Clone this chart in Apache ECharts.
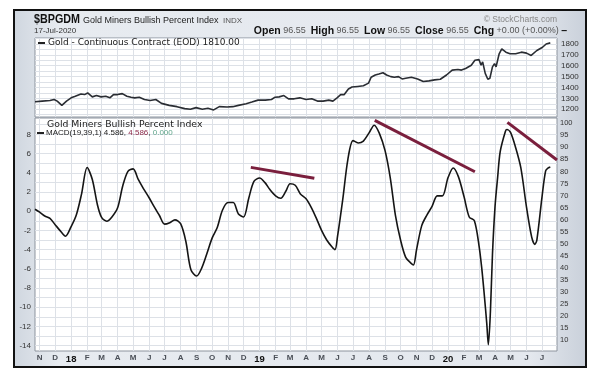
<!DOCTYPE html>
<html><head><meta charset="utf-8">
<script src="https://cdn.jsdelivr.net/npm/echarts@6/dist/echarts.min.js"></script>
<style>html,body{margin:0;padding:0;background:#fff}#c{width:600px;height:379px}</style>
</head><body><div id="c"></div>
<script>
// ---- data ----
const dates = ['2017-10-23','2017-11-01','2017-11-11','2017-11-21','2017-12-01','2017-12-11','2017-12-21',
'2018-01-01','2018-01-11','2018-01-21','2018-02-01','2018-02-11','2018-02-21','2018-03-01','2018-03-11','2018-03-21',
'2018-04-01','2018-04-11','2018-04-21','2018-05-01','2018-05-11','2018-05-21','2018-06-01','2018-06-11','2018-06-21',
'2018-07-01','2018-07-11','2018-07-21','2018-08-01','2018-08-11','2018-08-21','2018-09-01','2018-09-11','2018-09-21',
'2018-10-01','2018-10-11','2018-10-21','2018-11-01','2018-11-11','2018-11-21','2018-12-01','2018-12-11','2018-12-21',
'2019-01-01','2019-01-11','2019-01-21','2019-02-01','2019-02-11','2019-02-21','2019-03-01','2019-03-11','2019-03-21',
'2019-04-01','2019-04-11','2019-04-21','2019-05-01','2019-05-11','2019-05-21','2019-05-27','2019-06-01','2019-06-11','2019-06-21',
'2019-07-01','2019-07-11','2019-07-21','2019-08-01','2019-08-11','2019-08-21','2019-09-01','2019-09-11','2019-09-21',
'2019-10-01','2019-10-11','2019-10-21','2019-10-26','2019-11-01','2019-11-11','2019-11-21','2019-12-01','2019-12-11','2019-12-21',
'2020-01-01','2020-01-11','2020-01-21','2020-02-01','2020-02-11','2020-02-21','2020-03-01','2020-03-06','2020-03-11',
'2020-03-16','2020-03-19','2020-03-23','2020-03-27','2020-04-01','2020-04-06','2020-04-11','2020-04-21','2020-04-24',
'2020-05-01','2020-05-11','2020-05-21','2020-06-01','2020-06-11','2020-06-17','2020-06-21','2020-07-01','2020-07-08','2020-07-13','2020-07-17'];

const macd = [0.2,-0.1,-0.5,-0.75,-1.4,-2.05,-2.6,
-1.6,-0.4,1.75,4.55,3.3,0.65,-0.65,-1.05,-0.6,
0.35,2.65,4.15,4.4,3.3,2.35,1.4,0.45,-0.45,
-1.35,-1.2,-0.9,-1.3,-3.1,-6.1,-6.75,-5.9,-4.4,
-2.8,-1.7,0.1,0.9,0.9,-0.3,-0.6,1.35,3.1,
3.45,3.0,2.25,1.6,1.35,2.1,2.85,2.7,1.8,
1.3,0.4,-0.75,-2.0,-3.0,-3.7,-4.0,-2.6,1.2,5.4,
7.35,7.1,7.3,8.15,8.95,8.1,6.3,3.5,-0.4,
-3.0,-4.8,-5.4,-5.6,-4.0,-1.5,-0.4,0.5,1.6,1.6,
3.5,4.5,3.6,1.5,-0.6,-1.0,-3.6,-5.8,-8.6,
-11.7,-13.9,-10.5,-4.5,0.5,3.5,6.2,8.3,8.5,
8.2,6.6,4.5,0.4,-2.7,-3.45,-3.0,1.5,4.2,4.5,4.586];

const goldDates = ['2017-10-23','2017-11-06','2017-11-21','2017-11-29','2017-12-05','2017-12-14','2017-12-23',
'2018-01-01','2018-01-09','2018-01-20','2018-01-27','2018-02-02','2018-02-11','2018-02-19','2018-02-28','2018-03-09',
'2018-03-17','2018-03-24','2018-04-01','2018-04-10','2018-04-19','2018-04-27','2018-05-04','2018-05-13','2018-05-23',
'2018-06-03','2018-06-14','2018-06-25','2018-07-10','2018-07-25','2018-08-09','2018-08-20','2018-08-31','2018-09-12',
'2018-09-23','2018-10-04','2018-10-15','2018-10-30','2018-11-10','2018-11-21','2018-12-06','2018-12-17','2018-12-29',
'2019-01-12','2019-01-24','2019-01-31','2019-02-08','2019-02-17','2019-02-26','2019-03-09','2019-03-20','2019-04-01',
'2019-04-12','2019-04-23','2019-05-04','2019-05-15','2019-05-23','2019-05-31','2019-06-07','2019-06-14','2019-06-22',
'2019-06-29','2019-07-10','2019-07-21','2019-07-31','2019-08-05','2019-08-13','2019-08-20','2019-08-28','2019-09-04',
'2019-09-12','2019-09-19','2019-09-27','2019-10-04','2019-10-11','2019-10-22','2019-11-03','2019-11-14','2019-11-25',
'2019-12-06','2019-12-17','2019-12-29','2020-01-09','2020-01-20','2020-01-27','2020-02-04','2020-02-15','2020-02-22',
'2020-03-01','2020-03-05','2020-03-08','2020-03-13','2020-03-18','2020-03-22','2020-03-27','2020-03-31','2020-04-03',
'2020-04-09','2020-04-14','2020-04-22','2020-04-30','2020-05-11','2020-05-22','2020-06-01','2020-06-10','2020-06-21',
'2020-07-02','2020-07-09','2020-07-17'];

const gold = [1269,1275,1281,1290,1275,1236,1275,
1305,1320,1341,1335,1350,1314,1326,1314,1320,
1305,1335,1335,1344,1320,1311,1305,1311,1290,
1281,1290,1254,1236,1224,1206,1200,1215,1200,
1209,1194,1224,1221,1224,1236,1251,1266,1284,
1284,1290,1311,1314,1326,1296,1296,1305,1290,
1296,1275,1275,1284,1275,1305,1335,1335,1386,
1404,1410,1416,1440,1494,1515,1524,1536,1515,
1500,1494,1500,1479,1485,1494,1479,1455,1461,
1470,1476,1515,1560,1566,1560,1575,1605,1650,
1656,1605,1635,1530,1476,1485,1590,1620,1590,
1710,1755,1725,1710,1710,1725,1716,1695,1740,
1770,1800,1810];

const trendLines = [
  [['2018-12-15', 4.56], ['2019-04-17', 3.42]],
  [['2019-08-12', 9.45], ['2020-02-22', 4.11]],
  [['2020-04-25', 9.25], ['2020-07-30', 5.33]]
];

const monthTicks = ['2017-11-01','2017-12-01','2018-01-01','2018-02-01','2018-03-01','2018-04-01','2018-05-01','2018-06-01',
'2018-07-01','2018-08-01','2018-09-01','2018-10-01','2018-11-01','2018-12-01','2019-01-01','2019-02-01','2019-03-01',
'2019-04-01','2019-05-01','2019-06-01','2019-07-01','2019-08-01','2019-09-01','2019-10-01','2019-11-01','2019-12-01',
'2020-01-01','2020-02-01','2020-03-01','2020-04-01','2020-05-01','2020-06-01','2020-07-01'];
const monthLabels = ['N','D','18','F','M','A','M','J','J','A','S','O','N','D','19','F','M','A','M','J','J','A','S','O','N','D','20','F','M','A','M','J','J'];

const goldLabels = [1200,1300,1400,1500,1600,1700,1800];
const goldGrid = [1150,1200,1250,1300,1350,1400,1450,1500,1550,1600,1650,1700,1750,1800,1850];
const macdLabels = [-14,-12,-10,-8,-6,-4,-2,0,2,4,6,8];
const macdGrid = [-14,-13,-12,-11,-10,-9,-8,-7,-6,-5,-4,-3,-2,-1,0,1,2,3,4,5,6,7,8,9];
const bpiLabels = [10,15,20,25,30,35,40,45,50,55,60,65,70,75,80,85,90,95,100];

// ---- chart ----
const ts = s => Date.UTC(+s.slice(0, 4), +s.slice(5, 7) - 1, +s.slice(8, 10));
const chart = echarts.init(document.getElementById('c'), null, {renderer: 'canvas'});
const FONT = 'Liberation Sans';
const gridColor = '#dde1e7';
const tickVals = monthTicks.map(ts);
const plain = v => String(v);

function xLabelFmt(v) {
  const i = tickVals.indexOf(v);
  const s = i >= 0 ? monthLabels[i] : '';
  return /\d/.test(s) ? '{y|' + s + '}' : '{m|' + s + '}';
}

const xBase = {
  type: 'value', min: ts('2017-10-23'), max: ts('2020-07-30'),
  axisLine: {show: false},
  axisTick: {show: false, customValues: tickVals},
  splitLine: {show: true, lineStyle: {color: gridColor, width: 1}}
};

const option = {
  backgroundColor: '#ffffff',
  animation: false,
  grid: [
    {left: 35, right: 43, top: 38, height: 79, show: true, backgroundColor: '#ffffff', borderColor: '#8d949e', borderWidth: 1},
    {left: 35, right: 43, top: 118, height: 233, show: true, backgroundColor: '#ffffff', borderColor: '#8d949e', borderWidth: 1}
  ],
  xAxis: [
    Object.assign({}, xBase, {gridIndex: 0, axisLabel: {show: false, customValues: tickVals}}),
    Object.assign({}, xBase, {gridIndex: 1, axisLabel: {show: true, customValues: tickVals, margin: 3, formatter: xLabelFmt,
      rich: {m: {fontFamily: FONT, fontSize: 8, fontWeight: 'bold', color: '#4a4f57'},
             y: {fontFamily: FONT, fontSize: 9.5, fontWeight: 'bold', color: '#111'}}}})
  ],
  yAxis: [
    {gridIndex: 0, type: 'value', position: 'right', min: 1129, max: 1855,
      axisLine: {show: false}, axisTick: {show: false, customValues: goldGrid},
      axisLabel: {customValues: goldLabels, formatter: plain, fontFamily: FONT, fontSize: 8, color: '#333', margin: 4},
      splitLine: {show: true, lineStyle: {color: gridColor}}},
    {gridIndex: 1, type: 'value', position: 'left', min: -14.55, max: 9.70,
      axisLine: {show: false}, axisTick: {show: false, customValues: macdGrid},
      axisLabel: {customValues: macdLabels, formatter: plain, fontFamily: FONT, fontSize: 8, color: '#333', margin: 4},
      splitLine: {show: true, lineStyle: {color: gridColor}}},
    {gridIndex: 1, type: 'value', position: 'right', min: 5.43, max: 102.2,
      axisLine: {show: false}, axisTick: {show: false, customValues: bpiLabels},
      axisLabel: {customValues: bpiLabels, formatter: plain, fontFamily: FONT, fontSize: 7.5, color: '#333', margin: 3},
      splitLine: {show: false}}
  ],
  series: [
    {type: 'line', xAxisIndex: 0, yAxisIndex: 0, showSymbol: false, silent: true,
      data: goldDates.map((d, i) => [ts(d), gold[i]]),
      lineStyle: {color: '#2a2d33', width: 1.6}},
    {type: 'line', xAxisIndex: 1, yAxisIndex: 1, showSymbol: false, silent: true, smooth: 0.3, clip: false,
      data: dates.map((d, i) => [ts(d), macd[i]]),
      lineStyle: {color: '#151515', width: 1.6}},
    {type: 'line', xAxisIndex: 1, yAxisIndex: 2, showSymbol: false, silent: true, data: []}
  ].concat(trendLines.map(tl => ({
      type: 'line', xAxisIndex: 1, yAxisIndex: 1, showSymbol: false, silent: true, z: 5,
      data: tl.map(p => [ts(p[0]), p[1]]), lineStyle: {color: '#7a1f3d', width: 3}
  }))),
  graphic: [
    {type: 'rect', z: -100, shape: {x: 14, y: 10, width: 572, height: 357},
      style: {stroke: '#111', lineWidth: 2,
        fill: new echarts.graphic.LinearGradient(0, 0, 1, 0, [
          {offset: 0, color: '#cfd6df'}, {offset: 0.08, color: '#e7ebf0'},
          {offset: 0.9, color: '#e4e8ee'}, {offset: 1, color: '#c9d0da'}])}},
    {type: 'text', x: 34, y: 20, z: 100, scaleX: 0.86, style: {text: '$BPGDM', font: 'bold 12.5px "Liberation Sans"', fill: '#111', textVerticalAlign: 'middle', verticalAlign: 'middle'}},
    {type: 'text', x: 83, y: 20.5, z: 100, style: {text: 'Gold Miners Bullish Percent Index', font: '9px "Liberation Sans"', fill: '#222', textVerticalAlign: 'middle', verticalAlign: 'middle'}},
    {type: 'text', x: 223, y: 20.5, z: 100, style: {text: 'INDX', font: '8px "Liberation Sans"', fill: '#555', textVerticalAlign: 'middle', verticalAlign: 'middle'}},
    {type: 'text', x: 34, y: 31, z: 100, style: {text: '17-Jul-2020', font: '8px "Liberation Sans"', fill: '#333', textVerticalAlign: 'middle', verticalAlign: 'middle'}},
    {type: 'text', x: 557, y: 19.5, z: 100, style: {text: '© StockCharts.com', font: '8.5px "Liberation Sans"', fill: '#888', textAlign: 'right', align: 'right', textVerticalAlign: 'middle', verticalAlign: 'middle'}},
    {type: 'text', x: 567, y: 31, z: 100, style: {
      text: '{b|Open} {v|96.55}  {b|High} {v|96.55}  {b|Low} {v|96.55}  {b|Close} {v|96.55}  {b|Chg} {v|+0.00 (+0.00%)} {b|–}',
      font: '9px "Liberation Sans"', textAlign: 'right', align: 'right', textVerticalAlign: 'middle', verticalAlign: 'middle',
      rich: {b: {font: 'bold 10.5px "Liberation Sans"', fill: '#111'}, v: {font: '9px "Liberation Sans"', fill: '#555'}}}},
    {type: 'rect', z: 100, shape: {x: 38, y: 42, width: 7, height: 2}, style: {fill: '#222'}},
    {type: 'text', x: 48, y: 43, z: 100, style: {text: 'Gold - Continuous Contract (EOD) 1810.00', font: '9px "DejaVu Sans"', fill: '#222', textVerticalAlign: 'middle', verticalAlign: 'middle'}},
    {type: 'text', x: 47, y: 124.5, z: 100, style: {text: 'Gold Miners Bullish Percent Index', font: '9.3px "DejaVu Sans"', fill: '#222', textVerticalAlign: 'middle', verticalAlign: 'middle'}},
    {type: 'rect', z: 100, shape: {x: 37, y: 132, width: 7, height: 2}, style: {fill: '#222'}},
    {type: 'text', x: 46, y: 133, z: 100, style: {
      text: '{k|MACD(19,39,1) 4.586, }{r|4.586}{k|, }{g|0.000}',
      font: '8px "Liberation Sans"', textVerticalAlign: 'middle', verticalAlign: 'middle',
      rich: {k: {font: '8px "Liberation Sans"', fill: '#222'}, r: {font: '8px "Liberation Sans"', fill: '#8b2a4a'}, g: {font: '8px "Liberation Sans"', fill: '#5fa58a'}}}}
  ]
};
chart.setOption(option);
</script></body></html>
